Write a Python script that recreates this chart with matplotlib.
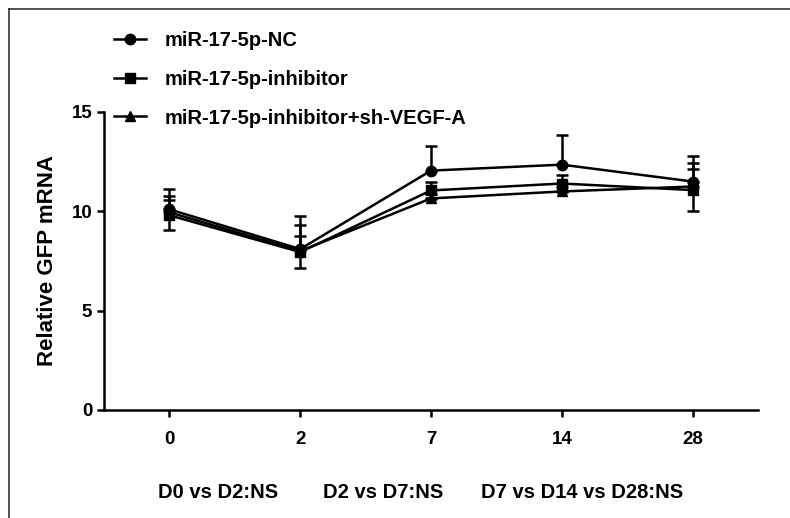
import matplotlib
matplotlib.use("Agg")
import matplotlib.pyplot as plt
from matplotlib.lines import Line2D

plt.rcParams['font.family'] = ['Liberation Sans', 'DejaVu Sans']
plt.rcParams['font.weight'] = 'bold'
plt.rcParams['axes.labelweight'] = 'bold'

days = ['0', '2', '7', '14', '28']
series_names = ['miR-17-5p-NC', 'miR-17-5p-inhibitor', 'miR-17-5p-inhibitor+sh-VEGF-A']
nc = [10.1, 8.1, 12.05, 12.35, 11.5]
nc_sd = [1.0, 1.68, 1.25, 1.5, 1.3]
inh = [9.8, 7.95, 11.05, 11.4, 11.07]
inh_sd = [0.75, 0.8, 0.45, 0.45, 1.07]
inh_sh = [9.95, 8.0, 10.65, 11.0, 11.25]
inh_sh_sd = [0.83, 1.3, 0.2, 0.2, 1.2]
notes = ['D0 vs D2:NS', 'D2 vs D7:NS', 'D7 vs D14 vs D28:NS']

fig = plt.figure(figsize=(7.9, 5.18), dpi=100)
ax = fig.add_axes([104/790, 108/518, 654/790, 298/518])

x = list(range(len(days)))
zeros = [0] * len(days)
# NC and +sh-VEGF-A only show the upper bar, inhibitor shows both
errs = [[zeros, nc_sd], [inh_sd, inh_sd], [zeros, inh_sh_sd]]
markers = ['o', 's', '^']
handles = []
for vals, err, m in zip([nc, inh, inh_sh], errs, markers):
    ax.errorbar(x, vals, yerr=err, color='black', marker=m, markersize=7.5,
                linewidth=1.8, elinewidth=1.8, capsize=4.5, capthick=1.8)
    handles.append(Line2D([], [], color='black', marker=m, markersize=7.5, linewidth=1.8))

ax.set_xlim(-0.5, 4.5)
ax.set_ylim(0, 15)
ax.set_yticks([0, 5, 10, 15])
ax.set_xticks(x)
ax.set_xticklabels(days)
ax.spines['top'].set_visible(False)
ax.spines['right'].set_visible(False)
for s in ['left', 'bottom']:
    ax.spines[s].set_linewidth(1.8)
ax.tick_params(width=1.8, length=5, labelsize=13.5, direction='out')
ax.tick_params(axis='x', pad=10)
ax.set_ylabel('Relative GFP mRNA', fontsize=16, labelpad=10)

fig.legend(handles, series_names, loc='upper left', bbox_to_anchor=(106/790, 1 - 23/518),
           frameon=False, fontsize=14.5, handlelength=1.6, labelspacing=0.98,
           handletextpad=0.9, borderaxespad=0)

note_x = [218, 383, 582]
for t, nx in zip(notes, note_x):
    fig.text(nx/790, 1 - 493/518, t, ha='center', va='center', fontsize=14.5)

# partial frame (top and left) of the cropped panel
fig.add_artist(Line2D([9/790, 1], [1 - 9/518, 1 - 9/518], color='#333333', linewidth=1.2))
fig.add_artist(Line2D([9/790, 9/790], [0, 1 - 9/518], color='#333333', linewidth=1.2))

fig.savefig('out.png', dpi=100)
